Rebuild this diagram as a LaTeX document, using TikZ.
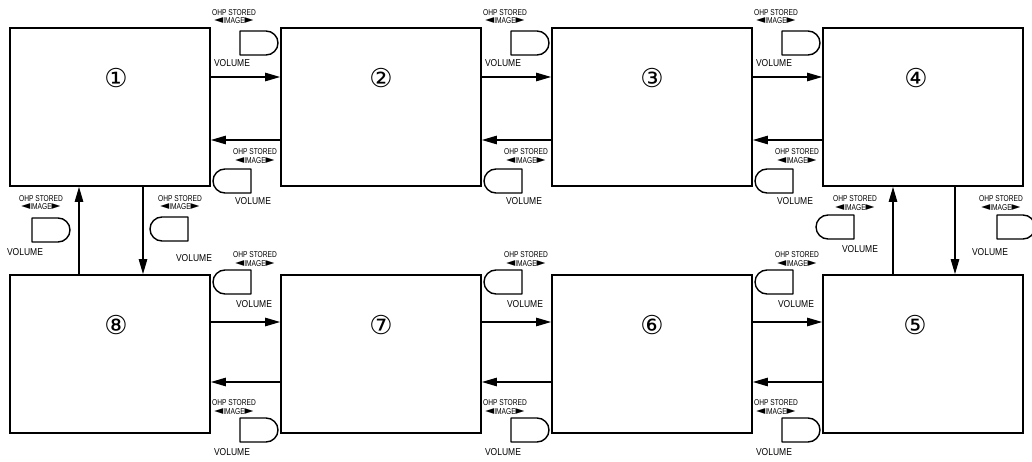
\documentclass[tikz,border=0pt]{standalone}
\usepackage{fontspec}
\usetikzlibrary{arrows.meta,positioning,calc}
\newfontfamily\lblfont[FakeStretch=0.78]{Liberation Sans}
\newfontfamily\volfont[FakeStretch=0.85]{Liberation Sans}
\newfontfamily\symfont{DejaVu Sans}
\newcommand{\tri}[1]{{\symfont\fontsize{11.5}{8}\selectfont #1}}
\newcommand{\ohptext}{OHP STORED\\\tri{◄}IMAGE\tri{►}}

\tikzset{
  panel/.style={draw, line width=1.8, minimum width=200, minimum height=158, inner sep=0},
  num/.style={font=\symfont\fontsize{26}{26}\selectfont, inner sep=0},
  arr/.style={line width=1.1, -{Triangle[length=15pt,width=8.5pt]}},
  ohp/.style={font=\lblfont\fontsize{8.5}{8.5}\selectfont, align=center, inner sep=0},
  vol/.style={font=\volfont\fontsize{10}{10}\selectfont, inner sep=0},
  btnline/.style={line width=1.4, line join=round},
  fwdbtn/.pic={\draw[btnline] (0,0) -- (26,0) arc[start angle=-90,end angle=90,radius=12] -- (0,24) -- cycle;},
  backbtn/.pic={\draw[btnline] (38,0) -- (12,0) arc[start angle=-90,end angle=-270,radius=12] -- (38,24) -- cycle;}
}

\begin{document}
\begin{tikzpicture}[x=1pt, y=-1pt]
\clip (0,0) rectangle (1032,462);
% panels
\foreach \i/\x/\y/\dx/\n in {1/110/107/6/①, 2/381/107/0/②, 3/652/107/0/③, 4/923/107/-7/④,
                          8/110/354/6/⑧, 7/381/354/0/⑦, 6/652/354/0/⑥, 5/923/354/-8/⑤}{
  \node[panel] (p\i) at (\x,\y) {};
  \node[num] (n\i) at ([xshift=\dx pt, yshift=29pt]p\i.center) {\n};
}
% top row
\foreach \a/\b/\g in {1/2/210, 2/3/481, 3/4/752}{
  \draw[arr] (p\a.east |- 0,77) -- (p\b.west |- 0,77);
  \draw[arr] (p\b.west |- 0,140) -- (p\a.east |- 0,140);
  \node[ohp] (of\a) at (\g+24,16.5) {\ohptext};
  \pic at (\g+30,31) {fwdbtn};
  \node[vol] (vf\a) at (\g+22,63) {VOLUME};
  \node[ohp] (ob\a) at (\g+45,156) {\ohptext};
  \pic at (\g+3,169) {backbtn};
  \node[vol] (vb\a) at (\g+43,201) {VOLUME};
}
% bottom row
\foreach \a/\b/\g in {8/7/210, 7/6/481, 6/5/752}{
  \draw[arr] (p\a.east |- 0,322) -- (p\b.west |- 0,322);
  \draw[arr] (p\b.west |- 0,382) -- (p\a.east |- 0,382);
  \node[ohp] (ob\a) at (\g+45,259) {\ohptext};
  \pic at (\g+3,270) {backbtn};
  \node[vol] (vb\a) at (\g+44,304) {VOLUME};
  \node[ohp] (of\a) at (\g+24,407) {\ohptext};
  \pic at (\g+30,418) {fwdbtn};
  \node[vol] (vf\a) at (\g+22,452) {VOLUME};
}
% left side
\draw[arr] (p8.north -| 79,0) -- (p1.south -| 79,0);
\draw[arr] (p1.south -| 143,0) -- (p8.north -| 143,0);
\node[ohp] (ofl) at (41,202.5) {\ohptext};
\pic at (32,218) {fwdbtn};
\node[vol] (vfl) at (25,252) {VOLUME};
\node[ohp] (obl) at (180,202.5) {\ohptext};
\pic at (150,217) {backbtn};
\node[vol] (vbl) at (194,258) {VOLUME};
% right side
\draw[arr] (p5.north -| 893,0) -- (p4.south -| 893,0);
\draw[arr] (p4.south -| 955,0) -- (p5.north -| 955,0);
\node[ohp] (obr) at (855,203) {\ohptext};
\pic at (816,215) {backbtn};
\node[vol] (vbr) at (860,249) {VOLUME};
\node[ohp] (ofr) at (1001,203) {\ohptext};
\pic at (997,215) {fwdbtn};
\node[vol] (vfr) at (990,252) {VOLUME};
\end{tikzpicture}
\end{document}
